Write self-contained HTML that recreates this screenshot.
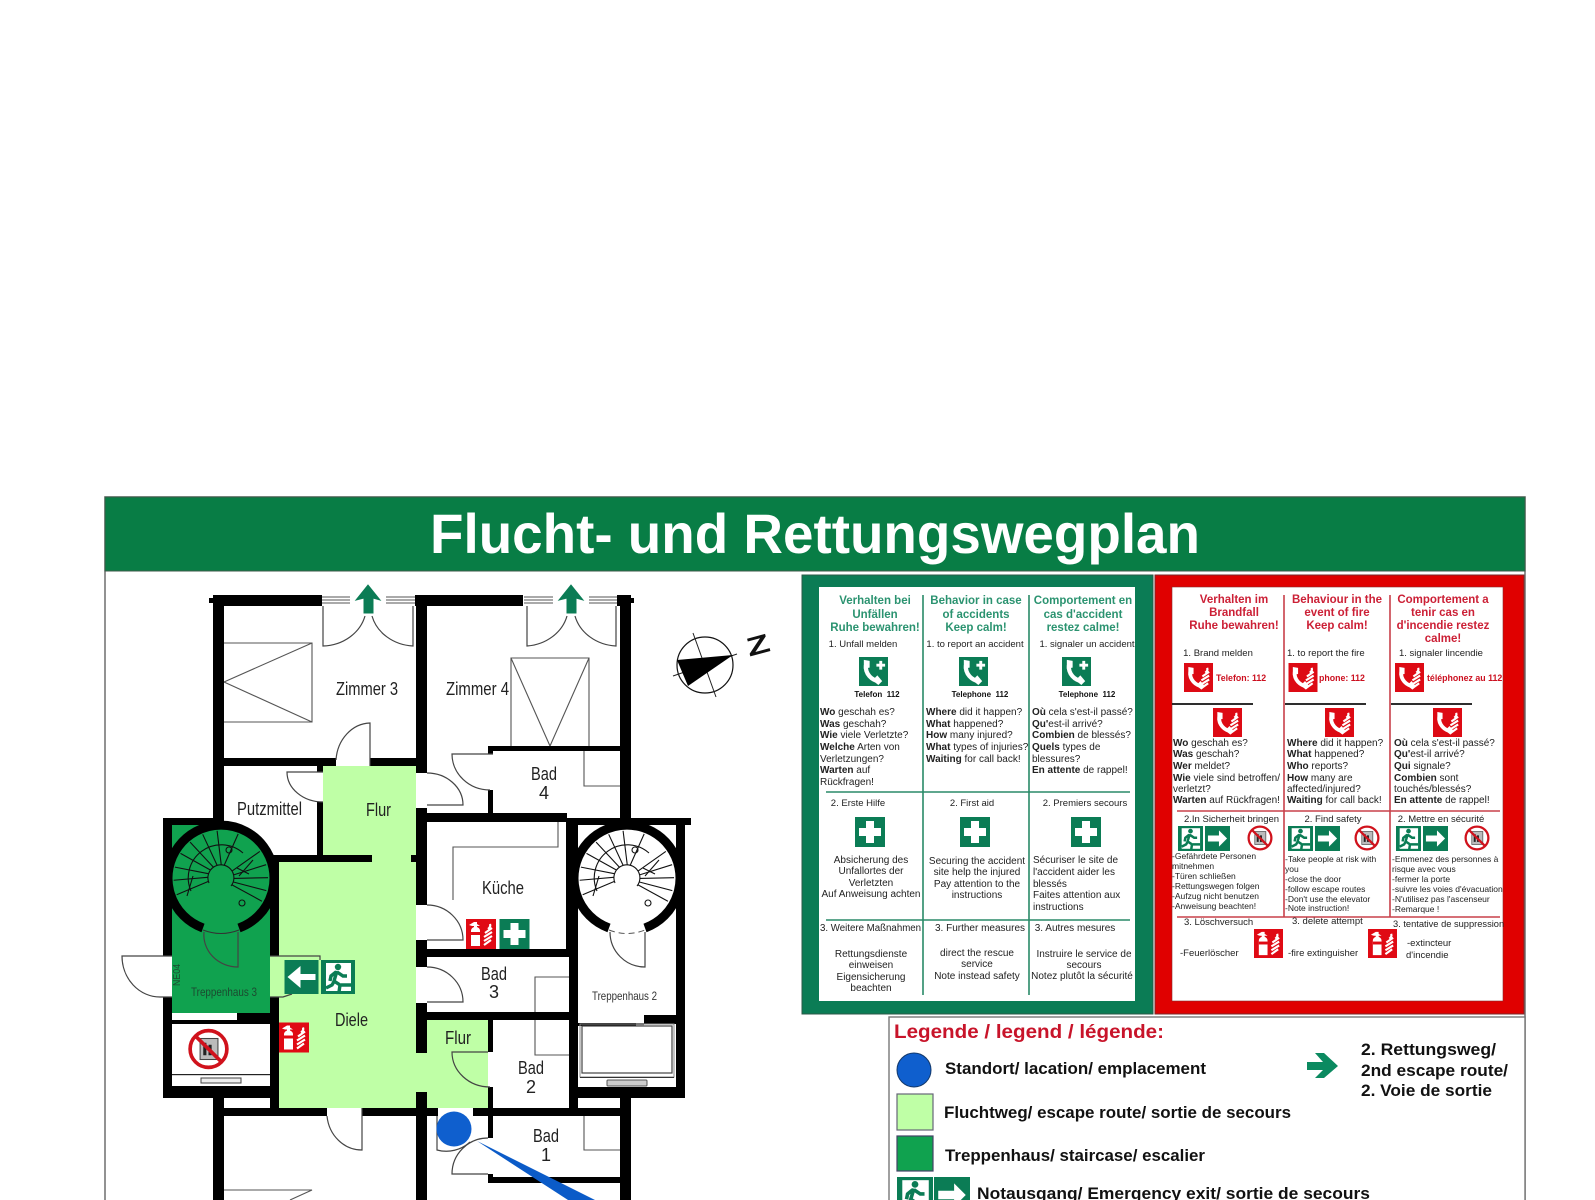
<!DOCTYPE html>
<html lang="de"><head><meta charset="utf-8"><title>Flucht- und Rettungswegplan</title>
<style>
html,body{margin:0;padding:0;background:#fff}
svg{display:block}
text{font-family:"Liberation Sans",sans-serif;fill:#222}
.b{font-weight:bold}
.hg{font-size:11.5px;font-weight:bold;fill:#2b9370;text-anchor:middle}
.hr{font-size:11.5px;font-weight:bold;fill:#cc2036;text-anchor:middle}
.q{font-size:10px}
.t{font-size:9.5px}
.m{font-size:10px}
.mc{font-size:10px;text-anchor:middle}
.tc{font-size:9.5px;text-anchor:middle}
.l{font-size:8.5px}
.s{font-size:9.5px}
.sc{font-size:9.5px;text-anchor:middle}
.tel{font-size:8px;font-weight:bold;text-anchor:middle;fill:#111}
.telr{font-size:8.8px;font-weight:bold;fill:#cc1020}
.rm{font-size:18px;fill:#1a1a1a}
.lg{font-size:17px;font-weight:bold;fill:#111}
.w rect{fill:#000}
.d path{fill:none;stroke:#444;stroke-width:1.2}
.f{fill:none;stroke:#555;stroke-width:1.1}
</style></head><body>
<svg xmlns="http://www.w3.org/2000/svg" width="1595" height="1200" viewBox="0 0 1595 1200">
<defs>
<symbol id="ph" viewBox="0 0 30 30"><path d="M8 6C5 14 10 22 19 25" fill="none" stroke="#fff" stroke-width="4.4"/><path d="M5 3l6 1 0 7-6 1zM14 24l5-5 5 6-4 4z" fill="#fff"/></symbol>
<symbol id="gph" viewBox="0 0 30 30"><rect width="30" height="30" fill="#0b7c55"/><use href="#ph" width="30" height="30"/><path d="M21 4h3v3h3v3h-3v3h-3v-3h-3V7h3z" fill="#fff"/></symbol>
<symbol id="fl" viewBox="0 0 30 30"><path d="M24 5Q25 8 22 10M26 9L19 14M26 13L18 18M26 17L18 22M25 21L18 26" fill="none" stroke="#fff" stroke-width="2.2"/></symbol>
<symbol id="rph" viewBox="0 0 30 30"><rect width="30" height="30" fill="#dd0a14"/><use href="#ph" width="27" height="30"/><use href="#fl" width="30" height="30"/></symbol>
<symbol id="cr" viewBox="0 0 30 30"><rect width="30" height="30" fill="#0b7c55"/><path d="M11 4h8v7h7v8h-7v7h-8v-7H4v-8h7z" fill="#fff"/></symbol>
<symbol id="ext" viewBox="0 0 30 30"><rect width="30" height="30" fill="#e00a14"/><path d="M3 6l5-3h3v2l3 2h-3v1c2 1 3 2 3 4v15H5V12c0-2 1-3 3-4V7H6z" fill="#fff"/><rect x="5" y="13" width="9" height="3" fill="#e00a14"/><use href="#fl" width="30" height="30"/></symbol>
<symbol id="per" viewBox="0 0 34 34"><rect width="34" height="34" fill="#0b7c55"/><rect x="5" y="3" width="25" height="28" fill="#fff"/><circle cx="17" cy="7" r="3.2" fill="#0b7c55"/><path d="M16 11l-3 10 6 4-1 7M14 20l-3 5-6 3M15 12l-5 4-1 5M16 12l6 4 4 0M20 25h10" fill="none" stroke="#0b7c55" stroke-width="3.4"/></symbol>
<symbol id="arr" viewBox="0 0 34 34"><rect width="34" height="34" fill="#0b7c55"/><path d="M4 13h15V6l11 11-11 11v-7H4z" fill="#fff"/></symbol>
<symbol id="arl" viewBox="0 0 34 34"><rect width="34" height="34" fill="#0b7c55"/><path d="M31 14H16V6L3 17l13 11v-8h15z" fill="#fff"/></symbol>
<symbol id="nol" viewBox="0 0 40 40"><circle cx="20" cy="20" r="17.5" fill="#fff"/><rect x="12" y="10" width="17" height="20" fill="#bbb" stroke="#444"/><path d="M15 14h3v12h-3zM20 16h3v10h-3z" fill="#222"/><circle cx="20" cy="20" r="17.5" fill="none" stroke="#d0121c" stroke-width="3.5"/><path d="M8 8l24 24" stroke="#d0121c" stroke-width="3.5"/></symbol>
<g id="tr" stroke="#111" stroke-width="1.1" fill="none">
<line x1="3" y1="-13" x2="6" y2="-47" transform="rotate(-12)"/><line x1="3" y1="-13" x2="6" y2="-47" transform="rotate(-30)"/><line x1="3" y1="-13" x2="6" y2="-47" transform="rotate(-48)"/><line x1="3" y1="-13" x2="6" y2="-47" transform="rotate(-66)"/><line x1="3" y1="-13" x2="6" y2="-47" transform="rotate(-84)"/><line x1="3" y1="-13" x2="6" y2="-47" transform="rotate(-100)"/><line x1="3" y1="-13" x2="6" y2="-47" transform="rotate(-118)"/>
<line x1="0" y1="-13" x2="6" y2="-47" transform="rotate(14)"/><line x1="0" y1="-13" x2="-2" y2="-47" transform="rotate(58)"/><line x1="0" y1="-13" x2="-2" y2="-47" transform="rotate(76)"/><line x1="0" y1="-13" x2="-2" y2="-47" transform="rotate(92)"/><line x1="0" y1="-13" x2="-2" y2="-47" transform="rotate(108)"/><line x1="0" y1="-13" x2="-2" y2="-47" transform="rotate(122)"/>
<path d="M-30 13A33 33 0 0 1 22 -25"/><path d="M-12 5A13 13 0 1 1 10 8"/><path d="M16 -10L28 -4M18 -2L32 -18"/><path d="M-34 18L-28 -2"/>
<circle cx="8" cy="-28" r="3"/><circle cx="21" cy="25" r="3"/></g>
</defs>

<!-- frame and header -->
<rect x="105" y="497" width="1420" height="720" fill="#fff" stroke="#777" stroke-width="1.6"/>
<rect x="105" y="497" width="1420" height="74" fill="#087d45" stroke="#3d5a49" stroke-width="1"/>
<text x="815" y="553" class="b" font-size="56" style="fill:#fff" text-anchor="middle" textLength="770" lengthAdjust="spacingAndGlyphs">Flucht- und Rettungswegplan</text>

<!-- fills -->
<rect x="323" y="766" width="93" height="96" fill="#bfffa6"/>
<rect x="279" y="862" width="137" height="246" fill="#bfffa6"/>
<rect x="416" y="1053" width="11" height="39" fill="#bfffa6"/>
<rect x="427" y="1020" width="61" height="88" fill="#bfffa6"/>
<rect x="172" y="825" width="49" height="60" fill="#10a24f"/>
<circle cx="221" cy="878" r="50" fill="#10a24f"/>
<rect x="172" y="878" width="98" height="135" fill="#10a24f"/>
<rect x="270" y="956" width="9" height="41" fill="#bfffa6"/>

<!-- furniture -->
<g class="f">
<path d="M224 643H312V722H224M224 682L312 643M224 682L312 722"/>
<path d="M511 746V658H589V746M511 658L550 746L589 658"/>
<path d="M584 751V786H620"/>
<path d="M558 822V847H453V900"/>
<path d="M569 977H535V1055H569"/>
<path d="M584 1116V1150H620"/>
<path d="M224 1190H312L290 1200"/>
<path d="M322 597H350M322 600H350M322 603H350M386 597H415M386 600H415M386 603H415M524 597H553M524 600H553M524 603H553M589 597H617M589 600H617M589 603H617"/>
</g>

<!-- stairs -->
<g transform="translate(221 878)"><use href="#tr"/></g>
<g transform="translate(627 878)"><use href="#tr"/></g>
<path d="M203 928A53 53 0 1 1 239 928" fill="none" stroke="#000" stroke-width="9"/>
<path d="M609 928A53 53 0 1 1 645 928" fill="none" stroke="#000" stroke-width="9"/>
<path d="M203 930Q221 937 239 930" fill="none" stroke="#333" stroke-width="1"/>
<path d="M609 930Q627 937 645 930" fill="none" stroke="#555" stroke-width="1" stroke-dasharray="6 4"/>

<!-- walls -->
<g class="w">
<rect x="213" y="595" width="109" height="11"/><rect x="209" y="598" width="6" height="5"/>
<rect x="415" y="595" width="108" height="11"/>
<rect x="617" y="595" width="14" height="11"/><rect x="630" y="598" width="4" height="5"/>
<rect x="213" y="595" width="11" height="230"/>
<rect x="620" y="595" width="11" height="230"/>
<rect x="224" y="758" width="112" height="8"/><rect x="370" y="758" width="57" height="8"/>
<rect x="416" y="595" width="11" height="178"/>
<rect x="416" y="808" width="11" height="97"/><rect x="416" y="940" width="11" height="27"/><rect x="416" y="1003" width="11" height="50"/><rect x="416" y="1092" width="11" height="108"/>
<rect x="317" y="766" width="6" height="6"/><rect x="317" y="802" width="6" height="53"/>
<rect x="270" y="855" width="102" height="7"/><rect x="411" y="855" width="5" height="7"/>
<!-- stair 3 box -->
<rect x="163" y="818" width="60" height="7"/><rect x="163" y="818" width="9" height="138"/><rect x="163" y="997" width="9" height="101"/>
<rect x="270" y="862" width="9" height="94"/><rect x="270" y="997" width="9" height="111"/>
<rect x="237" y="1013" width="33" height="11"/><rect x="172" y="1020" width="65" height="4"/>
<rect x="163" y="1086" width="116" height="12"/>
<rect x="224" y="1108" width="103" height="8"/><rect x="362" y="1108" width="76" height="8"/><rect x="473" y="1108" width="147" height="8"/>
<rect x="213" y="1098" width="11" height="102"/>
<!-- right rooms -->
<rect x="488" y="746" width="132" height="5"/><rect x="488" y="746" width="5" height="8"/><rect x="488" y="790" width="5" height="23"/>
<rect x="427" y="813" width="140" height="9"/>
<rect x="566" y="818" width="125" height="7"/><rect x="566" y="818" width="12" height="132"/><rect x="676" y="818" width="9" height="280"/>
<rect x="427" y="949" width="151" height="8"/><rect x="427" y="1012" width="151" height="8"/>
<rect x="569" y="949" width="9" height="161"/>
<rect x="488" y="1020" width="5" height="32"/><rect x="488" y="1087" width="5" height="51"/>
<rect x="488" y="1177" width="132" height="6"/><rect x="488" y="1174" width="5" height="9"/>
<rect x="578" y="1087" width="107" height="11"/>
<rect x="620" y="1098" width="11" height="102"/>
<rect x="644" y="1015" width="32" height="9"/><rect x="578" y="1023" width="58" height="3"/>
</g>

<!-- lift details -->
<rect x="172" y="1074" width="98" height="1.2" fill="#222"/><rect x="201" y="1078" width="40" height="5" fill="#eee" stroke="#444"/>
<rect x="582" y="1026" width="90" height="47" fill="#fff" stroke="#444" stroke-width="1.2"/><rect x="580" y="1024" width="94" height="53" fill="none" stroke="#888"/>
<rect x="580" y="1077" width="94" height="1" fill="#333"/><rect x="607" y="1080" width="40" height="6" rx="1" fill="#ccc" stroke="#555"/>
<rect x="636" y="1023" width="8" height="3" fill="#777"/>

<!-- doors -->
<g class="d">
<path d="M323 606V646A45 40 0 0 0 365 616"/><path d="M413 606V646A45 40 0 0 1 372 616"/>
<path d="M527 606V646A45 40 0 0 0 567 616"/><path d="M616 606V646A45 40 0 0 1 575 616"/>
<path d="M370 766V723A35 40 0 0 0 336 760"/>
<path d="M323 772H287A36 30 0 0 0 323 802"/>
<path d="M427 805H463A36 32 0 0 0 427 773"/>
<path d="M493 754H452A38 36 0 0 0 490 790"/>
<path d="M427 940H463A36 35 0 0 0 427 905"/>
<path d="M427 1002H463A36 35 0 0 0 427 967"/>
<path d="M488 1052H452A38 35 0 0 0 490 1087"/>
<path d="M362 1108V1150A35 38 0 0 1 327 1116"/>
<path d="M437 1116V1150A35 35 0 0 0 470 1142"/>
<path d="M488 1174H452A36 36 0 0 1 488 1138"/>
<path d="M172 956H122A38 41 0 0 0 160 997H172"/>
<path d="M238 932V967A34 32 0 0 1 204 932"/>
<path d="M645 932V967A35 35 0 0 1 610 932"/>
<path d="M270 956H320V960"/><path d="M270 997H283L292 994"/>
</g>

<!-- exit arrows -->
<path d="M368 585L380 600L373 598V613H364V598L356 600Z" fill="#0b7c55" stroke="#0b7c55"/>
<path d="M571 585L583 600L576 598V613H567V598L559 600Z" fill="#0b7c55" stroke="#0b7c55"/>

<!-- location -->
<polygon points="477,1141 595,1200 568,1200" fill="#0b5bc8"/>
<circle cx="454" cy="1129" r="17.5" fill="#0f5fce"/>

<!-- plan signs -->
<use href="#arl" x="284" y="960" width="35" height="34"/>
<use href="#per" x="321" y="960" width="34" height="34"/>
<use href="#ext" x="279" y="1022" width="30" height="31"/>
<use href="#ext" x="466" y="919" width="30" height="30"/>
<use href="#cr" x="499" y="919" width="31" height="30"/>
<use href="#nol" x="187.5" y="1028" width="42" height="42"/>

<!-- compass -->
<circle cx="705" cy="665" r="28" fill="none" stroke="#111" stroke-width="1.2"/>
<path d="M693 633L716 697M673 676L737 654" stroke="#222" stroke-width="1"/>
<polygon points="733,655 677,660 688,686" fill="#000"/>
<text x="758" y="654" font-size="26" class="b" style="fill:#111" text-anchor="middle" textLength="23" lengthAdjust="spacingAndGlyphs" transform="rotate(-15 758 645)">Z</text>

<!-- room labels -->
<g class="rm">
<text x="336" y="695" textLength="62" lengthAdjust="spacingAndGlyphs">Zimmer 3</text>
<text x="446" y="695" textLength="63" lengthAdjust="spacingAndGlyphs">Zimmer 4</text>
<text x="237" y="815" textLength="65" lengthAdjust="spacingAndGlyphs">Putzmittel</text>
<text x="366" y="816" textLength="25" lengthAdjust="spacingAndGlyphs">Flur</text>
<text x="482" y="894" textLength="42" lengthAdjust="spacingAndGlyphs">Küche</text>
<text x="531" y="780" textLength="26" lengthAdjust="spacingAndGlyphs">Bad</text><text x="544" y="799" text-anchor="middle">4</text>
<text x="481" y="980" textLength="26" lengthAdjust="spacingAndGlyphs">Bad</text><text x="494" y="998" text-anchor="middle">3</text>
<text x="518" y="1074" textLength="26" lengthAdjust="spacingAndGlyphs">Bad</text><text x="531" y="1093" text-anchor="middle">2</text>
<text x="533" y="1142" textLength="26" lengthAdjust="spacingAndGlyphs">Bad</text><text x="546" y="1161" text-anchor="middle">1</text>
<text x="445" y="1044" textLength="26" lengthAdjust="spacingAndGlyphs">Flur</text>
<text x="335" y="1026" textLength="33" lengthAdjust="spacingAndGlyphs">Diele</text>
</g>
<text x="191" y="996" font-size="12" style="fill:#1c4a30" textLength="66" lengthAdjust="spacingAndGlyphs">Treppenhaus 3</text>
<text x="592" y="1000" font-size="12" style="fill:#333" textLength="65" lengthAdjust="spacingAndGlyphs">Treppenhaus 2</text>
<text x="0" y="0" font-size="10" style="fill:#1c4a30" transform="translate(180 986) rotate(-90)" textLength="22" lengthAdjust="spacingAndGlyphs">NE04</text>

<!-- green panel -->
<rect x="802" y="575" width="351" height="439" fill="#0b7c55" stroke="#2e5a48"/>
<rect x="819" y="587" width="316" height="414" fill="#fff"/>
<path d="M923 595V995M1029 595V995M826 792H1130M826 920H1130" stroke="#2a8a68" stroke-width="1.6" fill="none"/>
<text x="875" y="604" class="hg">Verhalten bei</text><text x="875" y="618" class="hg">Unfällen</text><text x="875" y="631" class="hg">Ruhe bewahren!</text>
<text x="976" y="604" class="hg">Behavior in case</text><text x="976" y="618" class="hg">of accidents</text><text x="976" y="631" class="hg">Keep calm!</text>
<text x="1083" y="604" class="hg">Comportement en</text><text x="1083" y="618" class="hg">cas d'accident</text><text x="1083" y="631" class="hg">restez calme!</text>
<text x="863" y="647" class="tc">1. Unfall melden</text><text x="975" y="647" class="tc">1. to report an accident</text><text x="1087" y="647" class="tc">1. signaler un accident</text>
<use href="#gph" x="859" y="657" width="29" height="29"/><use href="#gph" x="959" y="657" width="29" height="29"/><use href="#gph" x="1062" y="657" width="29" height="29"/>
<text x="877" y="697" class="tel">Telefon&#160;&#160;112</text><text x="980" y="697" class="tel">Telephone&#160;&#160;112</text><text x="1087" y="697" class="tel">Telephone&#160;&#160;112</text>
<g class="q">
<text x="820" y="715"><tspan class="b">Wo</tspan> geschah es?</text><text x="820" y="727"><tspan class="b">Was</tspan> geschah?</text><text x="820" y="738"><tspan class="b">Wie</tspan> viele Verletzte?</text><text x="820" y="750"><tspan class="b">Welche</tspan> Arten von</text><text x="820" y="762">Verletzungen?</text><text x="820" y="773"><tspan class="b">Warten</tspan> auf</text><text x="820" y="785">Rückfragen!</text>
<text x="926" y="715"><tspan class="b">Where</tspan> did it happen?</text><text x="926" y="727"><tspan class="b">What</tspan> happened?</text><text x="926" y="738"><tspan class="b">How</tspan> many injured?</text><text x="926" y="750"><tspan class="b">What</tspan> types of injuries?</text><text x="926" y="762"><tspan class="b">Waiting</tspan> for call back!</text>
<text x="1032" y="715"><tspan class="b">Où</tspan> cela s'est-il passé?</text><text x="1032" y="727"><tspan class="b">Qu'</tspan>est-il arrivé?</text><text x="1032" y="738"><tspan class="b">Combien</tspan> de blessés?</text><text x="1032" y="750"><tspan class="b">Quels</tspan> types de</text><text x="1032" y="762">blessures?</text><text x="1032" y="773"><tspan class="b">En attente</tspan> de rappel!</text>
</g>
<text x="858" y="806" class="tc">2. Erste Hilfe</text><text x="972" y="806" class="tc">2. First aid</text><text x="1085" y="806" class="tc">2. Premiers secours</text>
<use href="#cr" x="855" y="817" width="30" height="30"/><use href="#cr" x="960" y="817" width="30" height="30"/><use href="#cr" x="1071" y="817" width="30" height="30"/>
<text x="871" y="863" class="mc">Absicherung des</text><text x="871" y="874" class="mc">Unfallortes der</text><text x="871" y="886" class="mc">Verletzten</text><text x="871" y="897" class="mc">Auf Anweisung achten</text>
<text x="977" y="864" class="mc">Securing the accident</text><text x="977" y="875" class="mc">site help the injured</text><text x="977" y="887" class="mc">Pay attention to the</text><text x="977" y="898" class="mc">instructions</text>
<text x="1033" y="863" class="m">Sécuriser le site de</text><text x="1033" y="875" class="m">l'accident aider les</text><text x="1033" y="887" class="m">blessés</text><text x="1033" y="898" class="m">Faites attention aux</text><text x="1033" y="910" class="m">instructions</text>
<text x="820" y="931" font-size="9.7">3. Weitere Maßnahmen</text><text x="980" y="931" class="mc">3. Further measures</text><text x="1075" y="931" class="mc">3. Autres mesures</text>
<text x="871" y="957" class="mc">Rettungsdienste</text><text x="871" y="968" class="mc">einweisen</text><text x="871" y="980" class="mc">Eigensicherung</text><text x="871" y="991" class="mc">beachten</text>
<text x="977" y="956" class="mc">direct the rescue</text><text x="977" y="967" class="mc">service</text><text x="977" y="979" class="mc">Note instead safety</text>
<text x="1084" y="957" class="mc">Instruire le service de</text><text x="1084" y="968" class="mc">secours</text><text x="1082" y="979" class="mc">Notez plutôt la sécurité</text>

<!-- red panel -->
<rect x="1155" y="575" width="369" height="439" fill="#e00000" stroke="#7a2a2a"/>
<rect x="1172" y="587" width="331" height="414" fill="#fff" stroke="#8a2a2a" stroke-width=".6"/>
<path d="M1284 595V917M1390 595V917M1177 811H1500M1177 917H1500" stroke="#c8404a" stroke-width="1.6" fill="none"/>
<path d="M1172 704H1253M1285 704H1366M1391 704H1472" stroke="#111" stroke-width="1.8" fill="none"/>
<text x="1234" y="603" class="hr">Verhalten im</text><text x="1234" y="616" class="hr">Brandfall</text><text x="1234" y="629" class="hr">Ruhe bewahren!</text>
<text x="1337" y="603" class="hr">Behaviour in the</text><text x="1337" y="616" class="hr">event of fire</text><text x="1337" y="629" class="hr">Keep calm!</text>
<text x="1443" y="603" class="hr">Comportement a</text><text x="1443" y="616" class="hr">tenir cas en</text><text x="1443" y="629" class="hr">d'incendie restez</text><text x="1443" y="642" class="hr">calme!</text>
<text x="1218" y="656" class="tc">1. Brand melden</text><text x="1287" y="656" class="t">1. to report the fire</text><text x="1399" y="656" class="t">1. signaler lincendie</text>
<use href="#rph" x="1184" y="663" width="29" height="29"/><use href="#rph" x="1288" y="663" width="30" height="29"/><use href="#rph" x="1395" y="663" width="29" height="29"/>
<text x="1216" y="681" class="telr">Telefon: 112</text><text x="1319" y="681" class="telr">phone: 112</text><text x="1427" y="681" class="telr">téléphonez au 112</text>
<use href="#rph" x="1213" y="708" width="29" height="29"/><use href="#rph" x="1325" y="708" width="29" height="29"/><use href="#rph" x="1433" y="708" width="29" height="29"/>
<g class="q">
<text x="1173" y="746"><tspan class="b">Wo</tspan> geschah es?</text><text x="1173" y="757"><tspan class="b">Was</tspan> geschah?</text><text x="1173" y="769"><tspan class="b">Wer</tspan> meldet?</text><text x="1173" y="781"><tspan class="b">Wie</tspan> viele sind betroffen/</text><text x="1173" y="792">verletzt?</text><text x="1173" y="803"><tspan class="b">Warten</tspan> auf Rückfragen!</text>
<text x="1287" y="746"><tspan class="b">Where</tspan> did it happen?</text><text x="1287" y="757"><tspan class="b">What</tspan> happened?</text><text x="1287" y="769"><tspan class="b">Who</tspan> reports?</text><text x="1287" y="781"><tspan class="b">How</tspan> many are</text><text x="1287" y="792">affected/injured?</text><text x="1287" y="803"><tspan class="b">Waiting</tspan> for call back!</text>
<text x="1394" y="746"><tspan class="b">Où</tspan> cela s'est-il passé?</text><text x="1394" y="757"><tspan class="b">Qu'</tspan>est-il arrivé?</text><text x="1394" y="769"><tspan class="b">Qui</tspan> signale?</text><text x="1394" y="781"><tspan class="b">Combien</tspan> sont</text><text x="1394" y="792">touchés/blessés?</text><text x="1394" y="803"><tspan class="b">En attente</tspan> de rappel!</text>
</g>
<text x="1184" y="822" class="s">2.In Sicherheit bringen</text><text x="1333" y="822" class="sc">2. Find safety</text><text x="1441" y="822" class="sc">2. Mettre en sécurité</text>
<use href="#per" x="1178" y="826" width="25" height="25"/><use href="#arr" x="1205" y="826" width="25" height="25"/>
<use href="#per" x="1288" y="826" width="25" height="25"/><use href="#arr" x="1315" y="826" width="25" height="25"/>
<use href="#per" x="1396" y="826" width="25" height="25"/><use href="#arr" x="1423" y="826" width="25" height="25"/>
<use href="#nol" x="1247" y="825" width="26" height="26"/><use href="#nol" x="1354" y="825" width="26" height="26"/><use href="#nol" x="1464" y="825" width="26" height="26"/>
<g class="l">
<text x="1172" y="859">-Gefährdete Personen</text><text x="1172" y="869">mitnehmen</text><text x="1172" y="879">-Türen schließen</text><text x="1172" y="889">-Rettungswegen folgen</text><text x="1172" y="899">-Aufzug nicht benutzen</text><text x="1172" y="909">-Anweisung beachten!</text>
<text x="1285" y="862">-Take people at risk with</text><text x="1285" y="872">you</text><text x="1285" y="882">-close the door</text><text x="1285" y="892">-follow escape routes</text><text x="1285" y="902">-Don't use the elevator</text><text x="1285" y="911">-Note instruction!</text>
<text x="1392" y="862">-Emmenez des personnes à</text><text x="1392" y="872">risque avec vous</text><text x="1392" y="882">-fermer la porte</text><text x="1392" y="892">-suivre les voies d'évacuation</text><text x="1392" y="902">-N'utilisez pas l'ascenseur</text><text x="1392" y="912">-Remarque !</text>
</g>
<text x="1184" y="925" class="t">3. Löschversuch</text><text x="1292" y="924" class="t">3. delete attempt</text><text x="1393" y="927" font-size="9.3">3. tentative de suppression</text>
<text x="1180" y="956" class="t">-Feuerlöscher</text><use href="#ext" x="1254" y="929" width="29" height="29"/>
<text x="1288" y="956" class="t">-fire extinguisher</text><use href="#ext" x="1368" y="929" width="29" height="29"/>
<text x="1407" y="946" class="t">-extincteur</text><text x="1406" y="958" class="t">d'incendie</text>

<!-- legend -->
<rect x="889" y="1017" width="636" height="200" fill="#fff" stroke="#777" stroke-width="1.4"/>
<text x="894" y="1038" class="b" font-size="19.5" style="fill:#c8142a" textLength="270" lengthAdjust="spacingAndGlyphs">Legende / legend / légende:</text>
<circle cx="914" cy="1070" r="17" fill="#0f5fce" stroke="#12386a"/>
<text x="945" y="1074" class="lg" textLength="261" lengthAdjust="spacingAndGlyphs">Standort/ lacation/ emplacement</text>
<rect x="897" y="1094" width="36" height="36" fill="#bfffa6" stroke="#667" stroke-width="1.2"/>
<text x="944" y="1118" class="lg" textLength="347" lengthAdjust="spacingAndGlyphs">Fluchtweg/ escape route/ sortie de secours</text>
<rect x="897" y="1136" width="36" height="35" fill="#10a24f" stroke="#446" stroke-width="1.2"/>
<text x="945" y="1161" class="lg" textLength="260" lengthAdjust="spacingAndGlyphs">Treppenhaus/ staircase/ escalier</text>
<use href="#per" x="897" y="1177" width="36" height="36"/><use href="#arr" x="934" y="1177" width="36" height="36"/>
<text x="977" y="1199" class="lg" textLength="393" lengthAdjust="spacingAndGlyphs">Notausgang/ Emergency exit/ sortie de secours</text>
<path d="M1307 1062H1323L1315 1053H1324L1338 1066L1324 1078H1315L1323 1070H1307Z" fill="#0b8a60"/>
<text x="1361" y="1055" class="lg" textLength="135" lengthAdjust="spacingAndGlyphs">2. Rettungsweg/</text>
<text x="1361" y="1076" class="lg" textLength="147" lengthAdjust="spacingAndGlyphs">2nd escape route/</text>
<text x="1361" y="1096" class="lg" textLength="131" lengthAdjust="spacingAndGlyphs">2. Voie de sortie</text>
</svg>
</body></html>
